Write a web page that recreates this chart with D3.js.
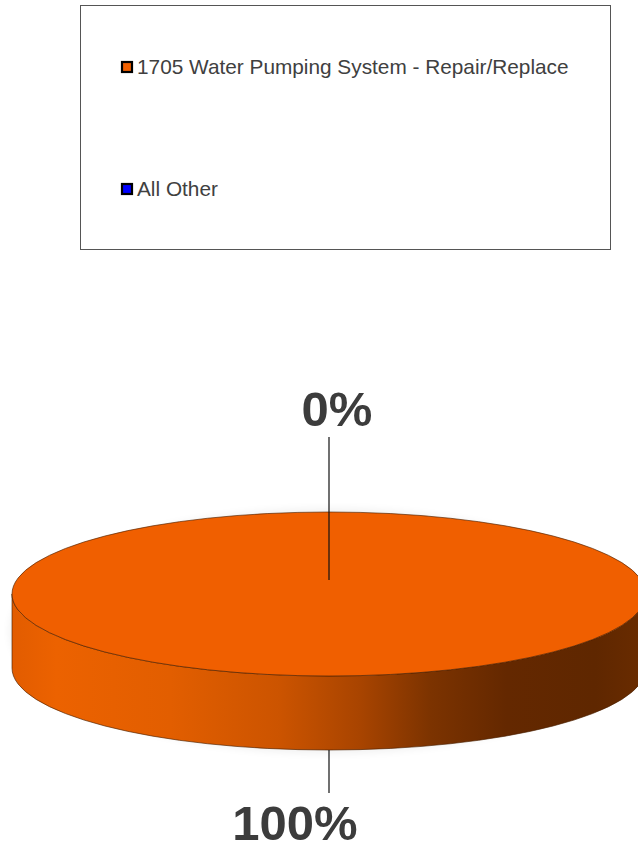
<!DOCTYPE html>
<html>
<head>
<meta charset="utf-8">
<script src="https://cdn.jsdelivr.net/npm/d3@7/dist/d3.min.js"></script>
<style>
  html, body { margin: 0; padding: 0; background: #ffffff; }
  svg { display: block; font-family: "Liberation Sans", Arial, sans-serif; }
</style>
</head>
<body>
<svg id="chart" width="638" height="849"></svg>
<script>
// Spending share by category
const categories = ["1705 Water Pumping System - Repair/Replace", "All Other"];
const values = [100, 0];
const colors = ["#f05f00", "#0000ff"];

const svg = d3.select("#chart");

// ---- Legend ----
const legend = svg.append("g");
legend.append("rect")
  .attr("x", 80.5).attr("y", 5.5).attr("width", 530).attr("height", 244)
  .attr("fill", "#fff").attr("stroke", "#555").attr("stroke-width", 1);

const legendY = d3.scalePoint().domain(categories).range([67, 189]);
const items = legend.selectAll("g.item").data(categories).join("g")
  .attr("class", "item")
  .attr("transform", d => `translate(0,${legendY(d)})`);
items.append("rect")
  .attr("x", 122).attr("y", -5).attr("width", 10).attr("height", 10)
  .attr("fill", (d, i) => colors[i])
  .attr("stroke", "#000").attr("stroke-width", 2.2);
items.append("text")
  .attr("x", 137).attr("y", 7)
  .attr("font-size", "20.8px").attr("fill", "#404040")
  .text(d => d);

// ---- 3D pie ----
const cx = 329, cy = 594, rx = 317, ry = 82, depth = 74;

const pie = d3.pie().sort(null).value(d => d)
  .startAngle(0).endAngle(2 * Math.PI);
const arcs = pie(values);

// angle 0 = top (back) of the disc, increasing clockwise
const px = a => cx + rx * Math.sin(a);
const py = a => cy - ry * Math.cos(a);

const defs = svg.append("defs");
const grad = defs.append("linearGradient").attr("id", "sideGrad")
  .attr("gradientUnits", "userSpaceOnUse")
  .attr("x1", cx - rx).attr("x2", cx + rx).attr("y1", 0).attr("y2", 0);
[
  [0.00, "#e25c00"], [0.07, "#ec6200"], [0.25, "#e25e00"],
  [0.42, "#cc5400"], [0.55, "#a84400"], [0.66, "#7c3300"],
  [0.78, "#642800"], [0.92, "#5f2700"], [1.00, "#6a2c00"]
].forEach(([o, c]) => grad.append("stop").attr("offset", o).attr("stop-color", c));

const shadow = defs.append("filter").attr("id", "soft")
  .attr("x", "-10%").attr("y", "-30%").attr("width", "120%").attr("height", "160%");
shadow.append("feGaussianBlur").attr("stdDeviation", 4);

const pieG = svg.append("g");

// faint halo beneath the disc
pieG.append("ellipse")
  .attr("cx", cx).attr("cy", cy + depth / 2).attr("rx", rx + 2).attr("ry", ry + depth / 2 + 3)
  .attr("fill", "#000").attr("opacity", 0.06).attr("filter", "url(#soft)");

// front side wall of each slice (only the visible half, right → bottom → left)
arcs.filter(a => a.endAngle - a.startAngle > 0).forEach((a, i) => {
  const s = Math.max(a.startAngle, Math.PI / 2);
  const e = Math.min(a.endAngle, 3 * Math.PI / 2);
  if (e <= s) return;
  const large = (e - s) > Math.PI ? 1 : 0;
  const path = `M${px(s)},${py(s)} A${rx},${ry} 0 ${large} 1 ${px(e)},${py(e)}` +
    ` L${px(e)},${py(e) + depth} A${rx},${ry} 0 ${large} 0 ${px(s)},${py(s) + depth} Z`;
  pieG.append("path").attr("d", path)
    .attr("fill", "url(#sideGrad)")
    .attr("stroke", "#4a2000").attr("stroke-width", 0.8).attr("stroke-opacity", 0.8);
});

// top faces
arcs.forEach((a, i) => {
  const span = a.endAngle - a.startAngle;
  if (span <= 0) return;
  let d;
  if (span >= 2 * Math.PI - 1e-9) {
    d = `M${cx - rx},${cy} A${rx},${ry} 0 1 1 ${cx + rx},${cy} A${rx},${ry} 0 1 1 ${cx - rx},${cy} Z`;
  } else {
    d = `M${cx},${cy} L${px(a.startAngle)},${py(a.startAngle)} A${rx},${ry} 0 ${span > Math.PI ? 1 : 0} 1 ${px(a.endAngle)},${py(a.endAngle)} Z`;
  }
  pieG.append("path").attr("d", d)
    .attr("fill", colors[i])
    .attr("stroke", "#4a2000").attr("stroke-width", 0.8).attr("stroke-opacity", 0.8);
});

// ---- Data labels with leader lines ----
const fmt = d3.format(".0%");
const total = d3.sum(values);
arcs.forEach((a, i) => {
  const mid = (a.startAngle + a.endAngle) / 2;
  const back = Math.cos(mid) > 0; // label sits above the disc
  const x = px(mid);
  let y0, y1, ty, tx;
  if (back) {
    y0 = py(mid) + 68; y1 = py(mid) - 75; ty = py(mid) - 86; tx = x + 8;
  } else {
    y0 = py(mid) + depth; y1 = y0 + 43; ty = y1 + 47; tx = x - 34;
  }
  svg.append("line")
    .attr("x1", x).attr("x2", x).attr("y1", y0).attr("y2", y1)
    .attr("stroke", "#111").attr("stroke-width", 1.2);
  svg.append("text")
    .attr("x", tx).attr("y", ty)
    .attr("text-anchor", "middle")
    .attr("font-size", "49px").attr("font-weight", "bold")
    .attr("fill", "#3c3c3c")
    .text(fmt(a.data / total));
});
</script>
</body>
</html>
